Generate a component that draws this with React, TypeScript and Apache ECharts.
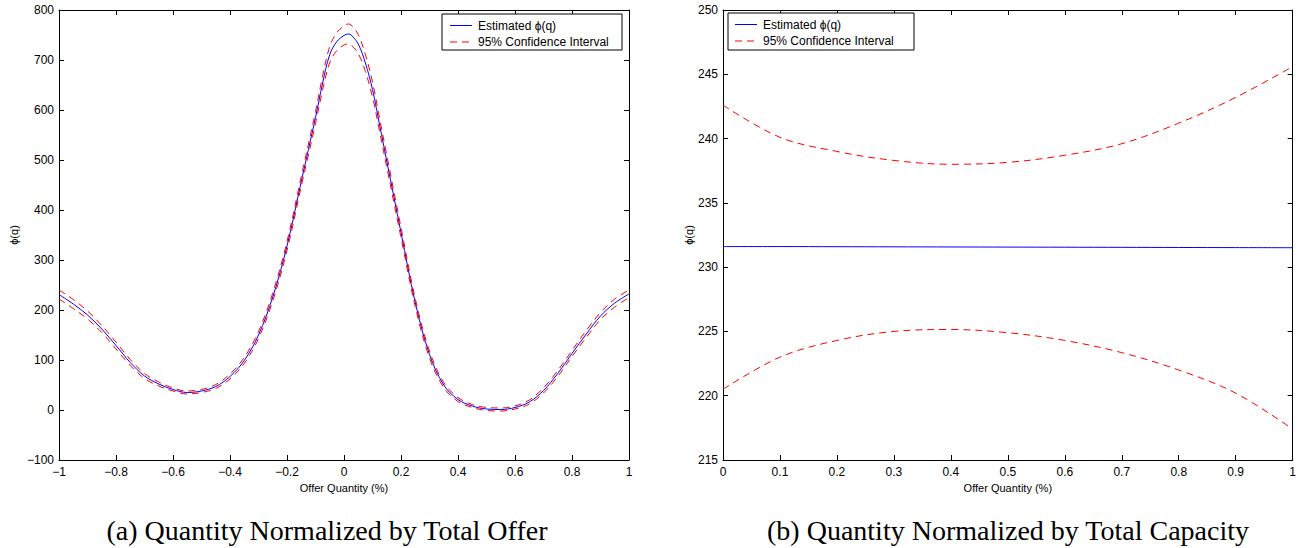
import React, { useEffect, useRef } from "react";
import * as echarts from "echarts";

// Panel (a): quantity normalized by total offer
const offerQ = [
  -1, -0.95, -0.9, -0.85, -0.8, -0.75, -0.7, -0.65, -0.6, -0.55, -0.5, -0.45, -0.4, -0.35,
  -0.3, -0.25, -0.2, -0.15, -0.1, -0.075, -0.05, -0.025, 0, 0.015, 0.025, 0.05, 0.075, 0.1,
  0.125, 0.15, 0.2, 0.25, 0.3, 0.35, 0.4, 0.45, 0.5, 0.55, 0.6, 0.65, 0.7, 0.75, 0.8, 0.85,
  0.9, 0.95, 1,
];
const offerPhi = [
  231, 212, 190, 162, 129, 95, 68, 52, 41, 35, 38, 47, 67, 99,
  150, 226, 328, 457, 585, 654, 711, 737, 749, 752, 750, 732, 694, 641,
  570, 498, 355, 215, 111, 50, 21, 8, 2, 1, 5, 16, 39, 73, 113, 152,
  188, 214, 232,
];
const offerUpper = [
  240, 221, 198, 169, 136, 101, 73, 56, 44, 38, 41, 51, 72, 105,
  157, 234, 337, 467, 597, 668, 727, 755, 768, 772, 770, 751, 711, 656,
  583, 510, 365, 223, 118, 55, 25, 11, 5, 4, 8, 20, 44, 79, 119, 159,
  195, 222, 240,
];
const offerLower = [
  222, 203, 182, 155, 122, 89, 63, 48, 38, 32, 35, 43, 62, 93,
  143, 218, 319, 447, 573, 640, 695, 719, 730, 732, 730, 713, 677, 626,
  557, 486, 345, 207, 104, 45, 17, 5, -1, -2, 2, 12, 34, 67, 107, 145,
  181, 206, 225,
];

// Panel (b): quantity normalized by total capacity
const capQ = [0, 0.1, 0.2, 0.3, 0.4, 0.5, 0.6, 0.7, 0.8, 0.9, 1];
const capPhi = [231.6, 231.6, 231.59, 231.58, 231.57, 231.56, 231.55, 231.54, 231.53, 231.52, 231.51];
const capUpper = [242.6, 240.1, 239.0, 238.3, 238.0, 238.15, 238.7, 239.6, 241.2, 243.2, 245.6];
const capLower = [220.5, 223.0, 224.3, 225.0, 225.15, 224.9, 224.3, 223.35, 222.0, 220.2, 217.4];

// Axis ranges: [min, max, interval]
const offerXRange = [-1, 1, 0.2];
const offerYRange = [-100, 800, 100];
const capXRange = [0, 1, 0.1];
const capYRange = [215, 250, 5];

const EST_NAME = "Estimated \u03d5(q)";
const CI_NAME = "95% Confidence Interval";
const X_NAME = "Offer Quantity (%)";
const Y_NAME = "\u03d5(q)";
const CAPTIONS = [
  "(a) Quantity Normalized by Total Offer",
  "(b) Quantity Normalized by Total Capacity",
];

const SANS = "'Liberation Sans', Arial, Helvetica, sans-serif";
const SERIF = "'Liberation Serif', 'DejaVu Serif', serif";
const BLUE = "#0000ff";
const RED = "#ff0000";
const DASH = [7, 5];

const fmt = (v: number) => String(Math.round(v * 100) / 100).replace("-", "\u2212");

const pairs = (xs: number[], ys: number[]) => xs.map((x, i) => [x, ys[i]]);

function xAxes(gridIndex: number, r: number[]) {
  const base = {
    type: "value",
    gridIndex,
    min: r[0],
    max: r[1],
    interval: r[2],
    splitLine: { show: false },
    axisLine: { show: true, onZero: false, lineStyle: { color: "#000", width: 1 } },
    axisTick: { show: true, inside: true, length: 5, lineStyle: { color: "#000", width: 1 } },
  };
  return [
    {
      ...base,
      position: "bottom",
      axisLabel: { formatter: fmt, color: "#000", fontSize: 12, fontFamily: SANS, margin: 6 },
      name: X_NAME,
      nameLocation: "middle",
      nameGap: 21,
      nameTextStyle: { fontSize: 11, color: "#000", fontFamily: SANS },
    },
    { ...base, position: "top", axisLabel: { show: false } },
  ];
}

function yAxes(gridIndex: number, r: number[], nameGap: number) {
  const base = {
    type: "value",
    gridIndex,
    min: r[0],
    max: r[1],
    interval: r[2],
    splitLine: { show: false },
    axisLine: { show: true, onZero: false, lineStyle: { color: "#000", width: 1 } },
    axisTick: { show: true, inside: true, length: 5, lineStyle: { color: "#000", width: 1 } },
  };
  return [
    {
      ...base,
      position: "left",
      axisLabel: { formatter: fmt, color: "#000", fontSize: 12, fontFamily: SANS, margin: 5 },
      name: Y_NAME,
      nameLocation: "middle",
      nameGap,
      nameTextStyle: { fontSize: 11, color: "#000", fontFamily: SANS },
    },
    { ...base, position: "right", axisLabel: { show: false } },
  ];
}

function lineSeries(name: string, data: number[][], axis: number, dashed: boolean) {
  const color = dashed ? RED : BLUE;
  return {
    type: "line",
    name,
    data,
    xAxisIndex: axis,
    yAxisIndex: axis,
    smooth: 0.35,
    showSymbol: false,
    symbol: "none",
    lineStyle: { color, width: 1, type: dashed ? DASH : "solid" },
    itemStyle: { color },
    emphasis: { disabled: true },
    z: dashed ? 3 : 2,
  };
}

// Boxed key: frame, two line samples and their labels
function legendBox(x: number, y: number, w: number, h: number, lineX: number, textX: number) {
  const row1 = y + 11.5;
  const row2 = y + 28;
  const text = (t: string, ty: number) => ({
    type: "text",
    x: textX,
    y: ty,
    z: 101,
    style: { text: t, font: `12px ${SANS}`, fill: "#000", textAlign: "left", textVerticalAlign: "middle" },
  });
  return [
    {
      type: "rect",
      z: 100,
      shape: { x, y, width: w, height: h },
      style: { fill: "#fff", stroke: "#000", lineWidth: 1 },
    },
    {
      type: "line",
      z: 101,
      shape: { x1: lineX, y1: row1, x2: lineX + 22, y2: row1 },
      style: { stroke: BLUE, lineWidth: 1 },
    },
    {
      type: "line",
      z: 101,
      shape: { x1: lineX, y1: row2, x2: lineX + 22, y2: row2 },
      style: { stroke: RED, lineWidth: 1, lineDash: DASH },
    },
    text(EST_NAME, row1),
    text(CI_NAME, row2),
  ];
}

function caption(t: string, x: number) {
  return {
    type: "text",
    x,
    y: 530,
    style: { text: t, font: `28px ${SERIF}`, fill: "#000", textAlign: "center", textVerticalAlign: "middle" },
  };
}

export default function App() {
  const ref = useRef<HTMLDivElement>(null);

  useEffect(() => {
    if (!ref.current) return;
    const chart = echarts.init(ref.current, undefined, { renderer: "svg" });
    chart.setOption({
      animation: false,
      backgroundColor: "#fff",
      grid: [
        { left: 59, top: 10, width: 570, height: 450 },
        { left: 723, top: 10, width: 570, height: 450 },
      ],
      xAxis: [...xAxes(0, offerXRange), ...xAxes(1, capXRange)],
      yAxis: [...yAxes(0, offerYRange, 40), ...yAxes(1, capYRange, 29)],
      series: [
        lineSeries(EST_NAME, pairs(offerQ, offerPhi), 0, false),
        lineSeries(CI_NAME, pairs(offerQ, offerUpper), 0, true),
        lineSeries(CI_NAME, pairs(offerQ, offerLower), 0, true),
        lineSeries(EST_NAME, pairs(capQ, capPhi), 2, false),
        lineSeries(CI_NAME, pairs(capQ, capUpper), 2, true),
        lineSeries(CI_NAME, pairs(capQ, capLower), 2, true),
      ],
      graphic: [
        ...legendBox(442, 14, 180, 36, 450, 478),
        ...legendBox(728, 13, 186, 37, 735, 763),
        caption(CAPTIONS[0], 327),
        caption(CAPTIONS[1], 1008),
      ],
    });
    return () => chart.dispose();
  }, []);

  return (
    <div
      ref={ref}
      style={{ position: "fixed", left: 0, top: 0, width: 1299, height: 548, background: "#fff" }}
    />
  );
}
